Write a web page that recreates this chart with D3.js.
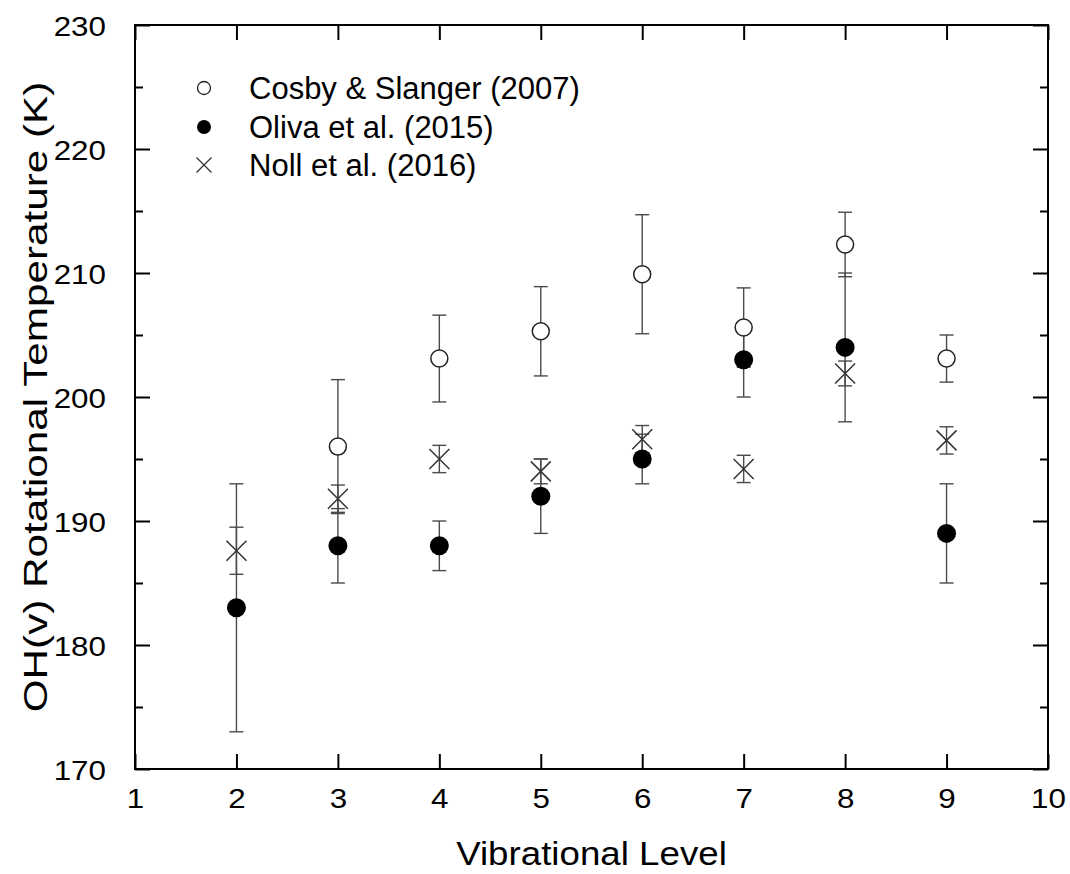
<!DOCTYPE html>
<html><head><meta charset="utf-8">
<script src="https://cdn.jsdelivr.net/npm/d3@7"></script>
<style>body{margin:0;background:#fff}svg{display:block}text{font-family:"Liberation Sans",Arial,sans-serif}</style>
</head><body><svg id="c" width="1070" height="874"></svg>
<script>
const xTicks = [1,2,3,4,5,6,7,8,9,10];
const yTicks = [170,180,190,200,210,220,230];
const cosbyV = [3,4,5,6,7,8,9];
const cosbyT = [196.0,203.1,205.3,209.9,205.6,212.3,203.1];
const cosbyE = [5.4,3.5,3.6,4.8,3.2,2.6,1.9];
const olivaV = [2,3,4,5,6,7,8,9];
const olivaT = [183,188,188,192,195,203,204,189];
const olivaE = [10,3,2,3,2,3,6,4];
const nollV = [2,3,4,5,6,7,8,9];
const nollT = [187.6,191.8,195.0,194.0,196.6,194.2,201.9,196.5];
const nollE = [1.9,1.1,1.1,1.0,1.1,1.1,1.0,1.1];
const legendLabels = ["Cosby & Slanger (2007)","Oliva et al. (2015)","Noll et al. (2016)"];

const svg = d3.select("#c");
const L=135,R=1048,T=25,B=769;
const x = d3.scaleLinear().domain([1,10]).range([L,R]);
const y = d3.scaleLinear().domain([170,230]).range([B,T]);
const ebColor="#4a4a4a", ebW=1.4, cap=7;

function errbars(V,Tv,E){
  const g=svg.append("g").attr("stroke",ebColor).attr("stroke-width",ebW).attr("fill","none");
  V.forEach((v,i)=>{
    const cx=x(v), y1=y(Tv[i]+E[i]), y2=y(Tv[i]-E[i]);
    g.append("line").attr("x1",cx).attr("x2",cx).attr("y1",y1).attr("y2",y2);
    g.append("line").attr("x1",cx-cap).attr("x2",cx+cap).attr("y1",y1).attr("y2",y1);
    g.append("line").attr("x1",cx-cap).attr("x2",cx+cap).attr("y1",y2).attr("y2",y2);
  });
}
errbars(cosbyV,cosbyT,cosbyE);
errbars(olivaV,olivaT,olivaE);
errbars(nollV,nollT,nollE);

svg.append("g").selectAll("circle").data(cosbyV).join("circle")
  .attr("cx",d=>x(d)).attr("cy",(d,i)=>y(cosbyT[i])).attr("r",8.5)
  .attr("fill","#fff").attr("stroke","#222").attr("stroke-width",1.5);
svg.append("g").selectAll("circle").data(olivaV).join("circle")
  .attr("cx",d=>x(d)).attr("cy",(d,i)=>y(olivaT[i])).attr("r",9.5)
  .attr("fill","#000");
const xs=10;
svg.append("g").attr("stroke","#333").attr("stroke-width",1.5).selectAll("path").data(nollV).join("path")
  .attr("d",(d,i)=>{const cx=x(d),cy=y(nollT[i]);return `M${cx-xs},${cy-xs}L${cx+xs},${cy+xs}M${cx-xs},${cy+xs}L${cx+xs},${cy-xs}`;});

const ax=svg.append("g");
const gx=ax.append("g").attr("transform",`translate(0,${B})`).call(d3.axisBottom(x).tickValues(xTicks).tickFormat(d3.format("d")).tickSizeInner(-15).tickSizeOuter(0));
ax.append("g").attr("transform",`translate(0,${T})`).call(d3.axisTop(x).tickValues(xTicks).tickFormat("").tickSizeInner(-15).tickSizeOuter(0));
const gy=ax.append("g").attr("transform",`translate(${L},0)`).call(d3.axisLeft(y).tickValues(yTicks).tickFormat(d3.format("d")).tickSizeInner(-15).tickSizeOuter(0));
ax.append("g").attr("transform",`translate(${R},0)`).call(d3.axisRight(y).tickValues(yTicks).tickFormat("").tickSizeInner(-15).tickSizeOuter(0));
const minor=d3.range(175,230,10);
ax.append("g").attr("transform",`translate(${L},0)`).call(d3.axisLeft(y).tickValues(minor).tickFormat("").tickSizeInner(-8).tickSizeOuter(0));
ax.append("g").attr("transform",`translate(${R},0)`).call(d3.axisRight(y).tickValues(minor).tickFormat("").tickSizeInner(-8).tickSizeOuter(0));
ax.selectAll(".domain").remove();
ax.selectAll(".tick line").attr("stroke","#000").attr("stroke-width",2);
const tf=28, tsx=1.12;
gx.selectAll(".tick text").attr("font-size",tf).attr("fill","#000").attr("x",0).attr("y",0).attr("dy",null)
  .attr("text-anchor","middle").attr("transform",`translate(0,39) scale(${tsx},1)`);
gy.selectAll(".tick text").attr("font-size",tf).attr("fill","#000").attr("x",0).attr("y",0).attr("dy",null)
  .attr("text-anchor","end").attr("transform",`translate(-29,10) scale(${tsx},1)`);
svg.append("rect").attr("x",L).attr("y",T).attr("width",R-L).attr("height",B-T).attr("fill","none").attr("stroke","#000").attr("stroke-width",2);

svg.append("text").attr("transform",`translate(${(L+R)/2},865) scale(1.08,1)`).attr("text-anchor","middle").attr("font-size",34).text("Vibrational Level");
svg.append("text").attr("transform",`translate(47,${(T+B)/2}) rotate(-90) scale(1.28,1)`).attr("text-anchor","middle").attr("font-size",33).text("OH(v) Rotational Temperature (K)");

const lg=svg.append("g");
const ly=[88,127,165];
lg.append("circle").attr("cx",204).attr("cy",ly[0]).attr("r",6.5).attr("fill","#fff").attr("stroke","#222").attr("stroke-width",1.3);
lg.append("circle").attr("cx",204).attr("cy",ly[1]).attr("r",7).attr("fill","#000");
lg.append("path").attr("d",`M${204-7.5},${ly[2]-7.5}L${204+7.5},${ly[2]+7.5}M${204-7.5},${ly[2]+7.5}L${204+7.5},${ly[2]-7.5}`).attr("stroke","#333").attr("stroke-width",1.3);
legendLabels.forEach((t,i)=>lg.append("text").attr("x",249).attr("y",ly[i]+11).attr("font-size",31).text(t));
</script></body></html>
